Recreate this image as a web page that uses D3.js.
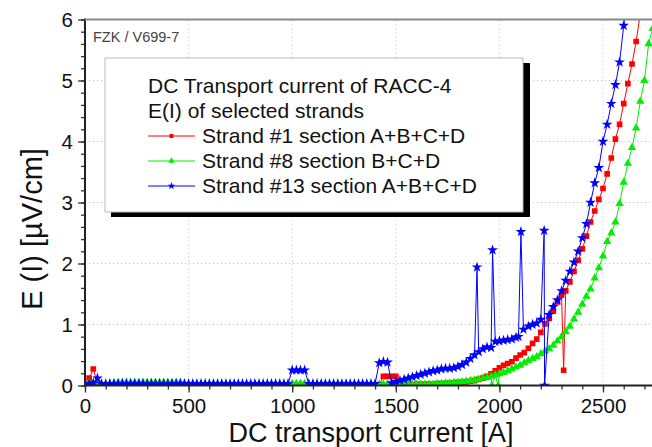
<!DOCTYPE html>
<html lang="en">
<head>
    <meta charset="utf-8">
    <title>DC Transport current of RACC-4</title>
    <script src="https://cdn.jsdelivr.net/npm/d3@7"></script>
</head>
<style>
    body {
        margin: 0;
        background: white;
    }
    svg {
        position: absolute;
        left: 0;
        top: 0;
        font-family: "Liberation Sans", Arial, sans-serif;
    }
    .grid line {
        stroke: #b8b8f0;
        stroke-width: 1px;
        stroke-dasharray: 1, 3;
    }
</style>
<body>
<script type="text/javascript">

    // [current A, E uV/cm]
    var strand1 = [
        [0,0.02],[20,0.12],[40,0.27],[60,0.03],[80,0.01],[100,0.01],[120,0.01],[140,0.01],[160,0.01],[180,0.01],
        [200,0.01],[220,0.01],[240,0.01],[260,0.01],[280,0.01],[300,0.01],[320,0.01],[340,0.01],[360,0.01],[380,0.01],
        [400,0.01],[420,0.01],[440,0.01],[460,0.01],[480,0.01],[500,0.01],[520,0.01],[540,0.01],[560,0.01],[580,0.01],
        [600,0.01],[620,0.01],[640,0.01],[660,0.01],[680,0.01],[700,0.01],[720,0.01],[740,0.01],[760,0.01],[780,0.01],
        [800,0.01],[820,0.01],[840,0.01],[860,0.01],[880,0.01],[900,0.01],[920,0.01],[940,0.01],[960,0.01],[980,0.01],
        [1000,0.01],[1020,0.01],[1040,0.01],[1060,0.01],[1080,0.01],[1100,0.01],[1120,0.01],[1140,0.01],[1160,0.01],[1180,0.01],
        [1200,0.01],[1220,0.01],[1240,0.01],[1260,0.01],[1280,0.01],[1300,0.01],[1320,0.01],[1340,0.01],[1360,0.01],[1380,0.01],
        [1400,0.01],[1420,0.01],[1440,0.15],[1460,0.15],[1480,0.15],[1500,0.15],[1520,0.01],[1540,0.01],[1560,0.01],[1580,0.01],
        [1600,0.02],[1620,0.02],[1640,0.02],[1660,0.02],[1680,0.02],[1700,0.03],[1720,0.03],[1740,0.03],[1760,0.04],[1780,0.04],
        [1800,0.05],[1820,0.05],[1840,0.06],[1860,0.07],[1880,0.08],[1900,0.10],[1920,0.12],[1940,0.15],[1960,0.19],[1980,0.24],
        [2000,0.29],[2020,0.33],[2040,0.36],[2060,0.39],[2080,0.45],[2100,0.50],[2120,0.54],[2140,0.61],[2160,0.69],[2180,0.76],
        [2200,0.87],[2220,1.01],[2240,1.10],[2260,1.22],[2280,1.37],[2300,1.48],[2310,0.25],[2320,1.55],[2340,1.70],[2360,1.87],
        [2380,2.05],[2400,2.24],[2420,2.45],[2440,2.68],[2460,2.86],[2480,3.05],[2500,3.23],[2520,3.47],[2540,3.73],[2560,4.04],
        [2580,4.28],[2600,4.62],[2620,4.95],[2640,5.27],[2660,5.64],[2680,6.10]
    ];

    var strand8 = [
        [0,0.03],[20,0.05],[40,0.04],[60,0.07],[80,0.02],[100,0.02],[120,0.03],[140,0.04],[160,0.05],[180,0.05],
        [200,0.05],[220,0.05],[240,0.05],[260,0.05],[280,0.05],[300,0.05],[320,0.05],[340,0.05],[360,0.05],[380,0.05],
        [400,0.05],[420,0.05],[440,0.05],[460,0.05],[480,0.03],[500,0.02],[520,0.02],[540,0.02],[560,0.02],[580,0.02],
        [600,0.02],[620,0.02],[640,0.02],[660,0.02],[680,0.02],[700,0.02],[720,0.02],[740,0.02],[760,0.02],[780,0.02],
        [800,0.02],[820,0.02],[840,0.02],[860,0.02],[880,0.02],[900,0.02],[920,0.02],[940,0.02],[960,0.02],[980,0.02],
        [1000,0.03],[1020,0.03],[1040,0.03],[1060,0.03],[1080,0.02],[1100,0.02],[1120,0.02],[1140,0.02],[1160,0.02],[1180,0.02],
        [1200,0.02],[1220,0.02],[1240,0.02],[1260,0.02],[1280,0.02],[1300,0.02],[1320,0.02],[1340,0.02],[1360,0.02],[1380,0.02],
        [1400,0.02],[1420,0.02],[1440,0.02],[1460,0.02],[1480,0.02],[1500,0.02],[1520,0.02],[1540,0.02],[1560,0.02],[1580,0.02],
        [1600,0.02],[1620,0.02],[1640,0.02],[1660,0.02],[1680,0.02],[1700,0.03],[1720,0.03],[1740,0.04],[1760,0.04],[1780,0.05],
        [1800,0.05],[1820,0.06],[1840,0.07],[1860,0.08],[1880,0.09],[1900,0.10],[1920,0.12],[1940,0.13],[1960,0.15],[1964,0.00],
        [1980,0.17],[1994,0.00],[2000,0.19],[2020,0.21],[2040,0.24],[2060,0.27],[2080,0.30],[2100,0.33],[2120,0.37],[2140,0.41],
        [2160,0.44],[2180,0.47],[2200,0.52],[2220,0.56],[2240,0.60],[2260,0.66],[2280,0.73],[2300,0.80],[2320,0.88],[2340,0.97],
        [2360,1.09],[2380,1.20],[2400,1.33],[2420,1.46],[2440,1.58],[2460,1.76],[2480,1.93],[2500,2.12],[2520,2.36],[2540,2.50],
        [2560,2.68],[2580,2.98],[2600,3.33],[2620,3.64],[2640,3.90],[2660,4.22],[2680,4.66],[2700,5.00],[2720,5.60],[2740,5.85]
    ];

    var strand13 = [
        [0,0.03],[20,0.03],[40,0.04],[60,0.12],[80,0.03],[100,0.03],[120,0.03],[140,0.03],[160,0.03],[180,0.03],
        [200,0.03],[220,0.03],[240,0.03],[260,0.03],[280,0.03],[300,0.03],[320,0.03],[340,0.03],[360,0.03],[380,0.03],
        [400,0.03],[420,0.03],[440,0.03],[460,0.03],[480,0.03],[500,0.03],[520,0.03],[540,0.03],[560,0.03],[580,0.03],
        [600,0.03],[620,0.03],[640,0.03],[660,0.03],[680,0.03],[700,0.03],[720,0.03],[740,0.03],[760,0.03],[780,0.03],
        [800,0.03],[820,0.03],[840,0.03],[860,0.03],[880,0.03],[900,0.03],[920,0.03],[940,0.03],[960,0.03],[980,0.03],
        [1000,0.25],[1020,0.25],[1040,0.25],[1060,0.25],[1080,0.03],[1100,0.03],[1120,0.03],[1140,0.03],[1160,0.03],[1180,0.03],
        [1200,0.03],[1220,0.03],[1240,0.03],[1260,0.03],[1280,0.03],[1300,0.03],[1320,0.03],[1340,0.03],[1360,0.03],[1380,0.03],
        [1400,0.03],[1420,0.37],[1440,0.39],[1460,0.38],[1480,0.04],[1500,0.06],[1520,0.08],[1540,0.10],[1560,0.12],[1580,0.14],
        [1600,0.16],[1620,0.18],[1640,0.20],[1660,0.22],[1680,0.24],[1700,0.25],[1720,0.27],[1740,0.28],[1760,0.28],[1780,0.29],
        [1800,0.31],[1820,0.34],[1840,0.38],[1860,0.44],[1880,0.50],[1892,1.94],[1900,0.55],[1920,0.60],[1940,0.63],[1960,0.62],
        [1967,2.22],[1980,0.72],[2000,0.73],[2020,0.74],[2040,0.75],[2060,0.76],[2080,0.79],[2092,0.80],[2104,2.52],[2116,0.92],
        [2140,0.97],[2160,1.00],[2180,1.02],[2200,1.08],[2216,2.54],[2218,0.00],[2240,1.16],[2260,1.29],[2280,1.40],[2300,1.55],
        [2320,1.72],[2340,1.87],[2360,2.02],[2380,2.20],[2400,2.42],[2420,2.65],[2440,3.00],[2460,3.32],[2480,3.57],[2500,4.00],
        [2520,4.28],[2540,4.62],[2560,4.93],[2580,5.30],[2600,5.90],[2620,6.50]
    ];

    var legendTitle = ['DC Transport current of RACC-4', 'E(I) of selected strands'];
    var seriesNames = ['Strand #1 section A+B+C+D', 'Strand #8 section B+C+D', 'Strand #13 section A+B+C+D'];
    var xMajorTicks = [0, 500, 1000, 1500, 2000, 2500];
    var yMajorTicks = [0, 1, 2, 3, 4, 5, 6];

    var width = 652, height = 447;

    var series = [
        {name: seriesNames[0], data: strand1, color: '#ff0000', symbol: d3.symbolSquare, size: 32, legendSize: 16},
        {name: seriesNames[1], data: strand8, color: '#00ee00', symbol: d3.symbolTriangle, size: 30, legendSize: 18},
        {name: seriesNames[2], data: strand13, color: '#0000ff', symbol: d3.symbolStar, size: 36, legendSize: 18}
    ];

    var x = d3.scaleLinear().domain([0, 2750]).range([85, 654.8]);
    var y = d3.scaleLinear().domain([0, 6]).range([385.5, 19.5]);

    var svg = d3.select('body').append('svg')
        .attr('width', width)
        .attr('height', height);

    svg.append('rect').attr('width', width).attr('height', height).attr('fill', 'white');

    svg.append('defs').append('clipPath').attr('id', 'plotClip')
        .append('rect')
        .attr('x', x(0)).attr('y', y(6))
        .attr('width', x(2750) - x(0)).attr('height', y(0) - y(6));

    // faint dotted grid
    var grid = svg.append('g').attr('class', 'grid');
    grid.selectAll('.vx').data(xMajorTicks.slice(1)).enter().append('line')
        .attr('x1', function (d) { return x(d); }).attr('x2', function (d) { return x(d); })
        .attr('y1', y(0)).attr('y2', y(6));
    grid.selectAll('.hy').data(yMajorTicks.slice(1, -1)).enter().append('line')
        .attr('x1', x(0)).attr('x2', width)
        .attr('y1', function (d) { return y(d); }).attr('y2', function (d) { return y(d); });

    var plot = svg.append('g').attr('clip-path', 'url(#plotClip)');

    var line = d3.line()
        .x(function (d) { return x(d[0]); })
        .y(function (d) { return y(d[1]); });

    series.forEach(function (s) {
        var g = plot.append('g');
        g.append('path')
            .datum(s.data)
            .attr('d', line)
            .attr('fill', 'none')
            .attr('stroke', s.color)
            .attr('stroke-width', 1);
        g.selectAll('path.mark')
            .data(s.data)
            .enter().append('path')
            .attr('class', 'mark')
            .attr('d', d3.symbol().type(s.symbol).size(s.size))
            .attr('transform', function (d) {
                return 'translate(' + x(d[0]) + ',' + y(d[1]) + ')';
            })
            .attr('fill', s.color);
    });

    // axes: minor ticks first, then majors with labels
    var fmt = d3.format('d');
    var xAxis = svg.append('g').attr('transform', 'translate(0,' + y(0) + ')');
    xAxis.call(d3.axisBottom(x).tickValues(d3.range(0, 2701, 100)).tickSize(4).tickFormat(''));
    xAxis.append('g').call(d3.axisBottom(x).tickValues(xMajorTicks).tickSize(7).tickPadding(6).tickFormat(fmt));
    var yAxis = svg.append('g').attr('transform', 'translate(' + x(0) + ',0)');
    yAxis.call(d3.axisLeft(y).tickValues(d3.range(0, 6.01, 0.2)).tickSize(4).tickFormat(''));
    yAxis.append('g').call(d3.axisLeft(y).tickValues(yMajorTicks).tickSize(7).tickPadding(5).tickFormat(fmt));
    svg.selectAll('.domain').remove();
    svg.selectAll('.tick line').attr('stroke', '#333').attr('stroke-width', 1.3);
    svg.selectAll('.tick text')
        .attr('fill', '#111')
        .style('font-size', '20.5px')
        .style('font-family', '"Liberation Sans", Arial, sans-serif');

    svg.append('line').attr('x1', x(0)).attr('x2', width).attr('y1', y(0)).attr('y2', y(0))
        .attr('stroke', '#222').attr('stroke-width', 2);
    svg.append('line').attr('x1', x(0)).attr('x2', x(0)).attr('y1', y(6) - 1).attr('y2', y(0) + 1)
        .attr('stroke', '#222').attr('stroke-width', 2);
    svg.append('line').attr('x1', x(0)).attr('x2', width).attr('y1', y(6)).attr('y2', y(6))
        .attr('stroke', '#888').attr('stroke-width', 2);

    svg.append('text')
        .attr('x', 93).attr('y', 42)
        .attr('fill', '#444')
        .style('font-size', '14.5px')
        .text('FZK / V699-7');

    svg.append('text')
        .attr('x', 371).attr('y', 442)
        .attr('text-anchor', 'middle')
        .attr('fill', '#111')
        .style('font-size', '27px')
        .text('DC transport current [A]');

    svg.append('text')
        .attr('transform', 'translate(42,229) rotate(-90)')
        .attr('text-anchor', 'middle')
        .attr('fill', '#111')
        .style('font-size', '29px')
        .text('E (I) [\u00b5V/cm]');

    // legend box with Origin style drop shadow
    var legend = svg.append('g');
    legend.append('rect')
        .attr('x', 111).attr('y', 63).attr('width', 419).attr('height', 154)
        .attr('fill', 'black');
    legend.append('rect')
        .attr('x', 105).attr('y', 58).attr('width', 418).attr('height', 154)
        .attr('fill', 'white').attr('stroke', '#bbb').attr('stroke-width', 1);

    legend.selectAll('text.title')
        .data(legendTitle)
        .enter().append('text')
        .attr('class', 'title')
        .attr('x', 148)
        .attr('y', function (d, i) { return 93 + i * 24.5; })
        .attr('fill', '#111')
        .style('font-size', '21px')
        .text(function (d) { return d; });

    var entry = legend.selectAll('g.entry')
        .data(series)
        .enter().append('g')
        .attr('class', 'entry')
        .attr('transform', function (d, i) { return 'translate(0,' + (136 + i * 25) + ')'; });
    entry.append('line')
        .attr('x1', 148).attr('x2', 195).attr('y1', 0).attr('y2', 0)
        .attr('stroke', function (d) { return d.color; })
        .attr('stroke-width', 1);
    entry.append('path')
        .attr('d', function (d) { return d3.symbol().type(d.symbol).size(d.legendSize)(); })
        .attr('transform', 'translate(171.5,0)')
        .attr('fill', function (d) { return d.color; });
    entry.append('text')
        .attr('x', 202).attr('y', 7)
        .attr('fill', '#111')
        .style('font-size', '21px')
        .text(function (d) { return d.name; });

</script>
</body>
</html>
